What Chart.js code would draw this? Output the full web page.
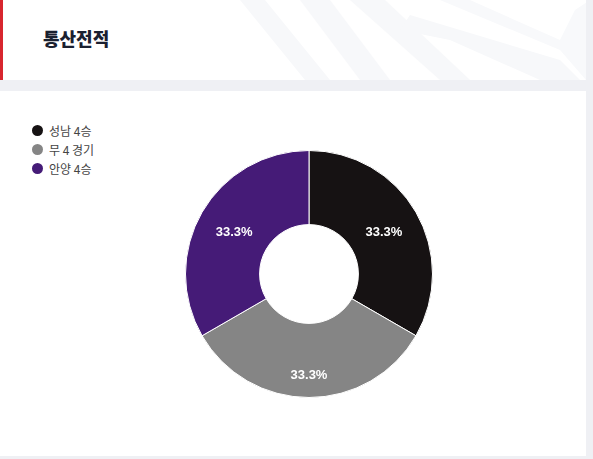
<!DOCTYPE html>
<html><head><meta charset="utf-8">
<script src="https://cdn.jsdelivr.net/npm/chart.js@4"></script>
<style>
html,body{margin:0;padding:0;background:#eff0f4;width:593px;height:459px;overflow:hidden;font-family:"Noto Sans CJK KR","Noto Sans",sans-serif;}
#header{position:absolute;left:0;top:0;width:586px;height:80px;background:#fff;overflow:hidden;}
#redbar{position:absolute;left:0;top:0;width:3px;height:80px;background:#d8262f;}
#title{position:absolute;left:43px;top:25px;font-size:18px;font-weight:900;color:#1a2030;line-height:26px;}
#panel{position:absolute;left:0;top:91px;width:586px;height:365px;background:#fff;}
#legend{position:absolute;left:32px;top:121px;font-size:12px;color:#444;}
#legend div{height:19px;display:flex;align-items:center;}
#legend span.dot{display:inline-block;width:11px;height:11px;border-radius:50%;margin-right:6px;}
#wrap{position:absolute;left:183px;top:148px;width:252px;height:252px;}
</style></head>
<body>
<div id="header">
<svg width="586" height="80" style="position:absolute;left:0;top:0">
<polygon points="240,0 265,0 330,80 305,80" fill="#f7f8fa"/>
<polygon points="300,0 330,0 390,80 360,80" fill="#f7f8fa"/>
<polygon points="350,0 385,0 470,80 440,80" fill="#f7f8fa"/>
<polygon points="410,15 560,60 580,80 540,80 450,40 400,30" fill="#f7f8fa"/>
<polygon points="440,0 470,0 560,40 575,10 590,0 586,80 560,50" fill="#f8f9fb"/>
</svg>
<div id="redbar"></div>
<div id="title">통산전적</div>
</div>
<div id="panel"></div>
<div id="legend"></div>
<div id="wrap"><canvas id="c"></canvas></div>
<script>
const categories = ["성남 4승", "무 4 경기", "안양 4승"];
const values = [4, 4, 4];
const colors = ["#161213", "#858585", "#451b77"];

const leg = document.getElementById('legend');
categories.forEach((c,i)=>{
  const d=document.createElement('div');
  d.innerHTML='<span class="dot" style="background:'+colors[i]+'"></span>'+c;
  leg.appendChild(d);
});

const pctPlugin = {
  id:'pct',
  afterDatasetsDraw(chart){
    const ctx=chart.ctx;
    const meta=chart.getDatasetMeta(0);
    const total=values.reduce((a,b)=>a+b,0);
    ctx.save();
    ctx.font='bold 13px Arial, "Liberation Sans", sans-serif';
    ctx.fillStyle='#fff';
    ctx.textAlign='center';
    ctx.textBaseline='middle';
    meta.data.forEach((arc,i)=>{
      const p=arc.getProps(['x','y','startAngle','endAngle','innerRadius','outerRadius'],true);
      const mid=(p.startAngle+p.endAngle)/2;
      const r=(p.innerRadius+p.outerRadius)/2;
      const x=p.x+Math.cos(mid)*r;
      const y=p.y+Math.sin(mid)*r+6+9*Math.sin(mid);
      ctx.fillText((values[i]/total*100).toFixed(1)+'%', x, y);
    });
    ctx.restore();
  }
};

new Chart(document.getElementById('c'),{
  type:'doughnut',
  data:{labels:categories,datasets:[{data:values,backgroundColor:colors,borderColor:'#fff',borderWidth:1}]},
  options:{
    responsive:true,maintainAspectRatio:false,animation:false,
    cutout:'40%',
    layout:{padding:2},
    plugins:{legend:{display:false},tooltip:{enabled:false}}
  },
  plugins:[pctPlugin]
});
</script>
</body></html>
